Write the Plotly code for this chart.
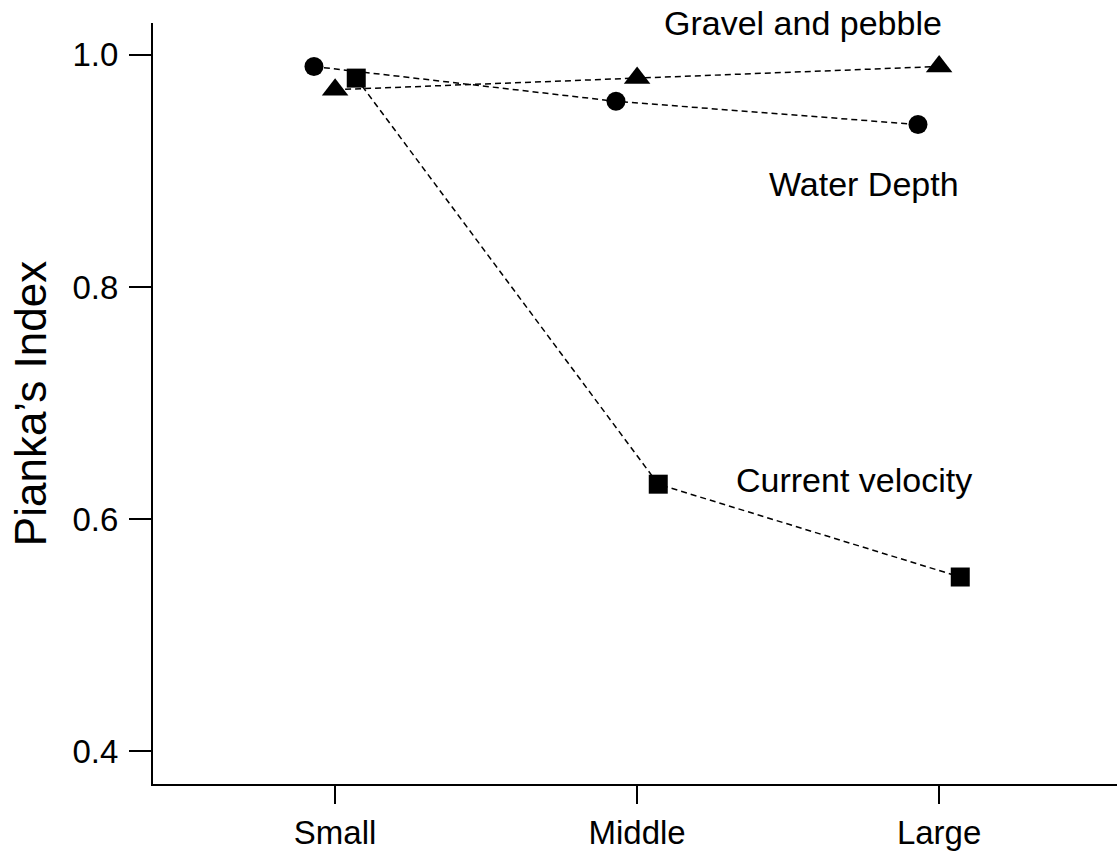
import plotly.graph_objects as go

categories = ["Small", "Middle", "Large"]
water_depth = [0.99, 0.96, 0.94]
gravel_pebble = [0.97, 0.98, 0.99]
current_velocity = [0.98, 0.63, 0.55]
series_labels = ["Water Depth", "Gravel and pebble", "Current velocity"]
y_ticks = [0.4, 0.6, 0.8, 1.0]
y_ticktext = ["0.4", "0.6", "0.8", "1.0"]

FONT = "Arial, Liberation Sans, sans-serif"
idx = list(range(len(categories)))

fig = go.Figure()

def add_series(values, offset, symbol, size, name):
    fig.add_trace(go.Scatter(
        x=[i + offset for i in idx], y=values, mode="lines+markers", name=name,
        line=dict(color="black", width=1.5, dash="6px,4px"),
        marker=dict(symbol=symbol, size=size, color="black", line=dict(width=0)),
        cliponaxis=False,
    ))

add_series(water_depth, -0.07, "circle", 19, series_labels[0])
add_series(gravel_pebble, 0.0, "triangle-up", 23, series_labels[1])
add_series(current_velocity, 0.07, "square", 19, series_labels[2])

annos = [
    (series_labels[1], 1.083, 1.0275),
    (series_labels[0], 1.431, 0.889),
    (series_labels[2], 1.322, 0.634),
]
for text, ax, ay in annos:
    fig.add_annotation(x=ax, y=ay, xref="x", yref="y", text=text, showarrow=False,
                       xanchor="left", yanchor="middle",
                       font=dict(family=FONT, size=34, color="black"))

fig.update_layout(
    width=1117, height=851,
    margin=dict(l=153, r=0, t=23, b=65),
    paper_bgcolor="white", plot_bgcolor="white",
    showlegend=False,
    font=dict(family=FONT, color="black"),
)
fig.update_xaxes(
    range=[-0.603, 2.589], tickvals=idx, ticktext=categories,
    showgrid=False, zeroline=False, showline=True, linecolor="black", linewidth=2,
    ticks="outside", ticklen=18, tickwidth=2, tickcolor="black",
    tickfont=dict(family=FONT, size=33, color="black"),
)
fig.update_yaxes(
    range=[0.3716, 1.0275], tickvals=y_ticks, ticktext=y_ticktext,
    showgrid=False, zeroline=False, showline=True, linecolor="black", linewidth=2,
    ticks="outside", ticklen=22, tickwidth=2, tickcolor="black",
    ticklabelstandoff=4,
    tickfont=dict(family=FONT, size=33, color="black"),
    title=dict(text="Pianka’s Index", font=dict(family=FONT, size=44, color="black"), standoff=12),
)

fig.write_html("out.html")
